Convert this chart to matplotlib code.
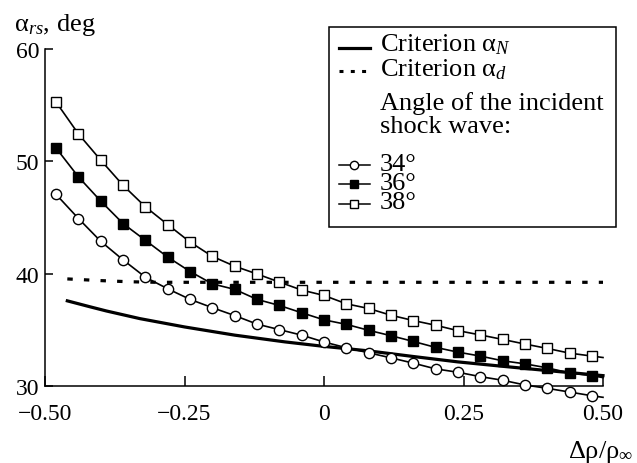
import matplotlib
matplotlib.use('Agg')
import matplotlib.pyplot as plt
from matplotlib.patches import Rectangle

plt.rcParams['font.family'] = ['Liberation Serif', 'DejaVu Serif']
plt.rcParams['mathtext.fontset'] = 'custom'
plt.rcParams['mathtext.rm'] = 'Liberation Serif'
plt.rcParams['mathtext.it'] = 'Liberation Serif:italic'
plt.rcParams['mathtext.bf'] = 'Liberation Serif:bold'

# density difference grid (markers every 0.04, curves run on to 0.50)
x = [-0.48, -0.44, -0.40, -0.36, -0.32, -0.28, -0.24, -0.20, -0.16, -0.12,
     -0.08, -0.04, 0.00, 0.04, 0.08, 0.12, 0.16, 0.20, 0.24, 0.28,
     0.32, 0.36, 0.40, 0.44, 0.48, 0.50]

# incident shock angle 34 deg
y34 = [47.06, 44.92, 42.89, 41.24, 39.70, 38.67, 37.73, 36.99, 36.29, 35.53,
       35.04, 34.55, 33.94, 33.43, 32.98, 32.53, 32.06, 31.55, 31.25, 30.86,
       30.54, 30.12, 29.82, 29.49, 29.16, 29.02]
# 36 deg
y36 = [51.18, 48.62, 46.47, 44.47, 42.98, 41.49, 40.21, 39.11, 38.62, 37.73,
       37.19, 36.54, 35.91, 35.51, 34.98, 34.50, 33.99, 33.46, 33.04, 32.69,
       32.27, 32.00, 31.64, 31.19, 30.95, 30.77]
# 38 deg
y38 = [55.27, 52.44, 50.11, 47.87, 45.96, 44.38, 42.83, 41.55, 40.68, 39.99,
       39.27, 38.56, 38.08, 37.34, 36.92, 36.32, 35.85, 35.43, 34.95, 34.57,
       34.17, 33.76, 33.37, 32.95, 32.69, 32.56]

# criterion alpha_N
xN = [-0.46, -0.42, -0.39, -0.33, -0.25, -0.16, -0.07, 0.00, 0.08, 0.16,
      0.24, 0.32, 0.40, 0.50]
yN = [37.60, 37.08, 36.70, 36.02, 35.28, 34.55, 33.95, 33.55, 33.15, 32.65,
      32.17, 31.78, 31.40, 30.95]

# criterion alpha_d
xd = [-0.46, -0.40, -0.35, -0.30, 0.00, 0.50]
yd = [39.55, 39.40, 39.30, 39.25, 39.25, 39.25]

xticks = [-0.50, -0.25, 0.0, 0.25, 0.50]
xticklabels = ['\u22120.50', '\u22120.25', '0', '0.25', '0.50']
yticks = [30, 40, 50, 60]
angle_labels = ['34\u00b0', '36\u00b0', '38\u00b0']

W, H = 637, 464
fig = plt.figure(figsize=(W / 100, H / 100), dpi=100)
ax = fig.add_axes([45 / W, (H - 387.3) / H, 558 / W, 337.3 / H])

nmark = slice(0, 25)
ax.plot(xN, yN, '-', color='black', lw=2.3, zorder=3, clip_on=False)
ax.plot(xd, yd, color='black', lw=2.3, dashes=(1.7, 3.5), zorder=3, clip_on=False)
ax.plot(x, y34, '-', color='black', lw=1.2, marker='o', ms=7.4, mfc='white',
        mec='black', mew=1.0, markevery=nmark, zorder=4, clip_on=False)
ax.plot(x, y36, '-', color='black', lw=1.2, marker='s', ms=6.8, mfc='black',
        mec='black', mew=1.0, markevery=nmark, zorder=4, clip_on=False)
ax.plot(x, y38, '-', color='black', lw=1.2, marker='s', ms=6.8, mfc='white',
        mec='black', mew=1.0, markevery=nmark, zorder=4, clip_on=False)

ax.set_xlim(-0.5, 0.5)
ax.set_ylim(30, 60)
ax.spines['top'].set_visible(False)
ax.spines['right'].set_visible(False)
for s in ['left', 'bottom']:
    ax.spines[s].set_linewidth(1.1)
ax.set_xticks(xticks)
ax.set_xticklabels(xticklabels)
ax.set_yticks(yticks)
ax.tick_params(axis='both', direction='in', width=1.1, labelsize=17)
ax.tick_params(axis='x', length=7, pad=12)
ax.tick_params(axis='y', length=6, pad=4)

# axis titles
fig.text(14 / W, 1 - 25 / H, r'$\mathrm{\alpha}_{rs}$, deg', fontsize=19,
         ha='left', va='center')
fig.text(1 - 4 / W, 1 - 452 / H, r'$\mathrm{\Delta\rho/\rho_{\infty}}$',
         fontsize=19, ha='right', va='center')

# legend drawn in pixel coordinates
lg = fig.add_axes([0, 0, 1, 1], zorder=10)
lg.set_xlim(0, W)
lg.set_ylim(H, 0)
lg.axis('off')
lg.add_patch(Rectangle((329, 28), 287, 200, fc='white', ec='black', lw=1.1))
fs = 19
lg.plot([339, 370], [49, 49], color='black', lw=2.3)
lg.text(380, 45, r'Criterion $\mathrm{\alpha}_N$', fontsize=fs, va='center')
lg.plot([339, 370], [72, 72], color='black', lw=2.2, dashes=(1.3, 2.4))
lg.text(380, 70, r'Criterion $\mathrm{\alpha}_d$', fontsize=fs, va='center')
lg.text(380, 115, 'Angle of the incident\nshock wave:', fontsize=fs,
        va='center', linespacing=1.05)
rows = [(166, 'o', 'white'), (184.5, 's', 'black'), (205, 's', 'white')]
for yy, mk, fc in rows:
    lg.plot([339, 370], [yy, yy], color='black', lw=1.1)
    lg.plot([354], [yy], marker=mk, ms=6, mfc=fc, mec='black', mew=1.0)
lg.text(380, 184, '\n'.join(angle_labels), fontsize=fs, va='center',
        linespacing=0.84)

fig.savefig('out.png', dpi=100)
